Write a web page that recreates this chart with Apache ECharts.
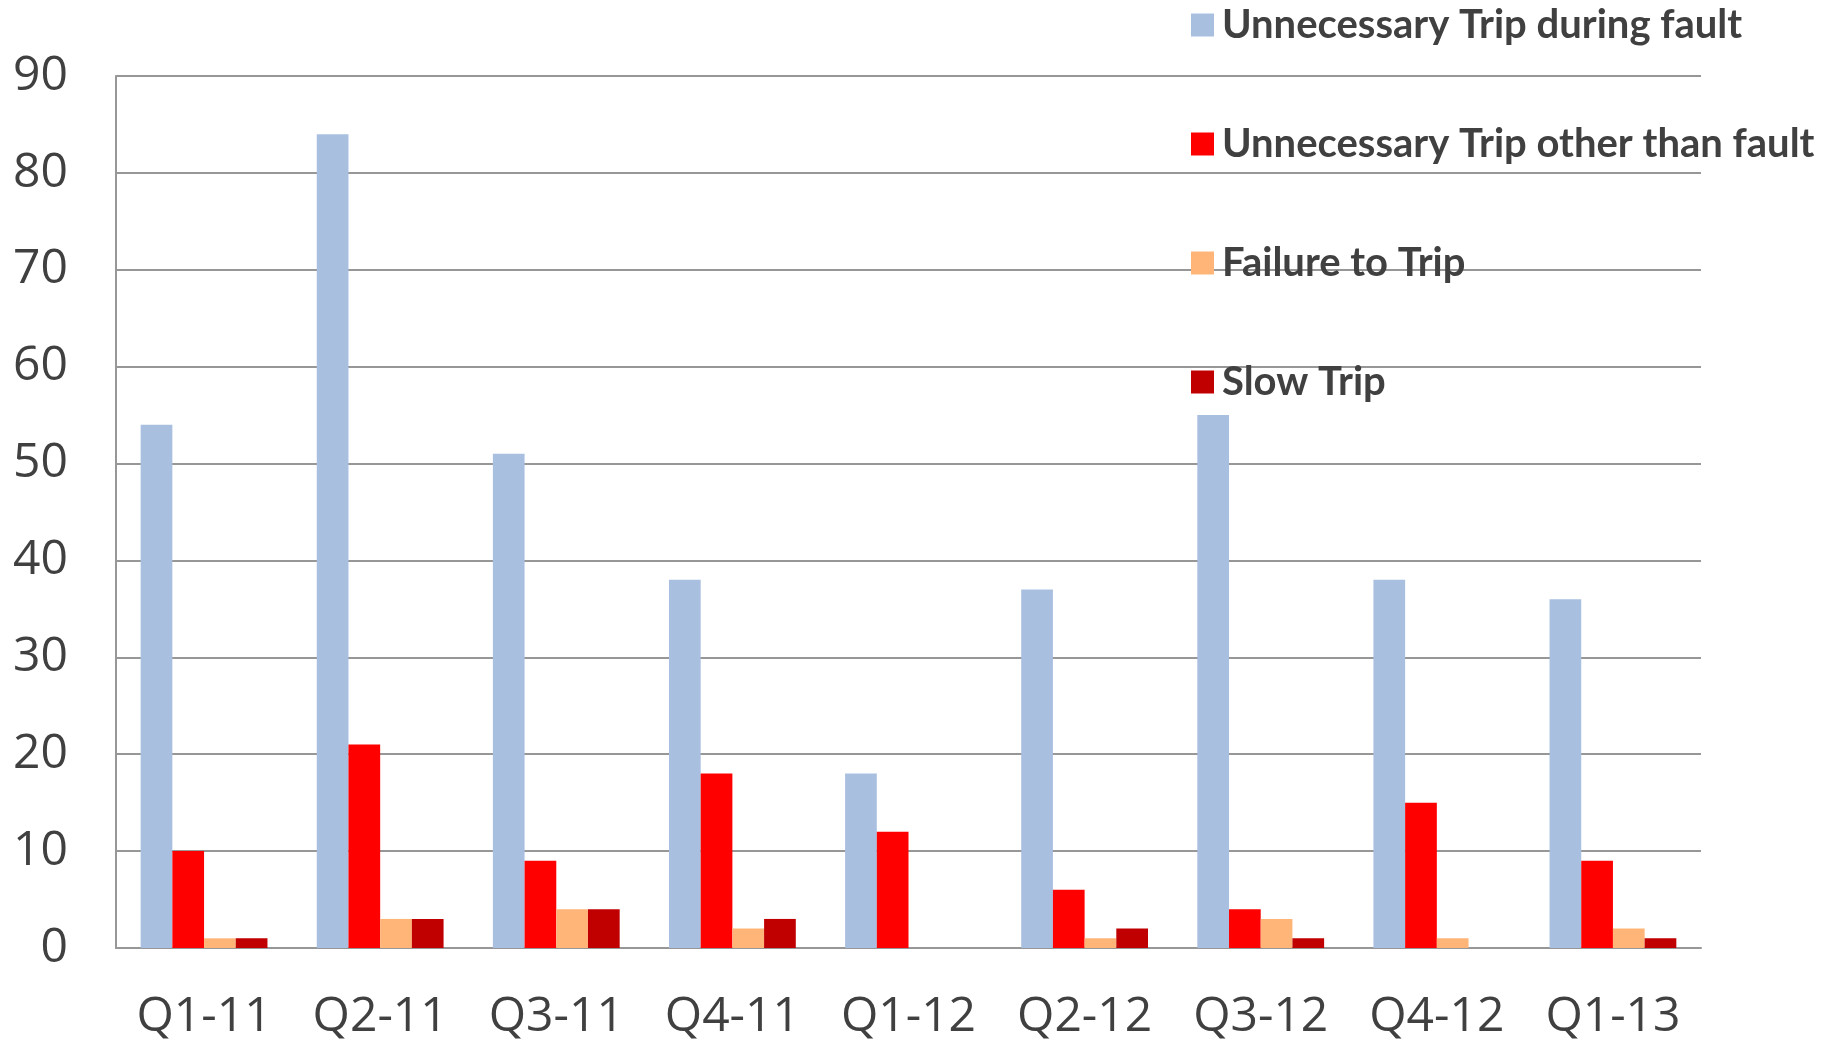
<!DOCTYPE html>
<html>
<head>
<meta charset="utf-8">
<script src="https://cdn.jsdelivr.net/npm/echarts@6/dist/echarts.min.js"></script>
<style>
  html, body { margin: 0; padding: 0; background: #fff; }
  #chart { width: 1836px; height: 1045px; }
</style>
</head>
<body>
<div id="chart"></div>
<script>
  // quarters
  var categories = ['Q1-11', 'Q2-11', 'Q3-11', 'Q4-11', 'Q1-12', 'Q2-12', 'Q3-12', 'Q4-12', 'Q1-13'];
  var seriesNames = ['Unnecessary Trip during fault', 'Unnecessary Trip other than fault', 'Failure to Trip', 'Slow Trip'];
  var tripDuringFault = [54, 84, 51, 38, 18, 37, 55, 38, 36];
  var tripOtherThanFault = [10, 21, 9, 18, 12, 6, 4, 15, 9];
  var failureToTrip = [1, 3, 4, 2, 0, 1, 3, 1, 2];
  var slowTrip = [1, 3, 4, 3, 0, 2, 1, 0, 1];
  var colorList = ['#a9bfe0', '#ff0000', '#ffb578', '#c00000'];

  var chart = echarts.init(document.getElementById('chart'));
  var values = [tripDuringFault, tripOtherThanFault, failureToTrip, slowTrip];
  var series = [];
  for (var i = 0; i < seriesNames.length; i++) {
    series.push({
      type: 'bar',
      name: seriesNames[i],
      data: values[i],
      barGap: '0%',
      barCategoryGap: '28%',
      itemStyle: { color: colorList[i] }
    });
  }

  var option = {
    animation: false,
    color: colorList,
    legend: {
      orient: 'vertical',
      left: 1186,
      top: 0,
      itemWidth: 23,
      itemHeight: 23,
      itemGap: 79,
      icon: 'rect',
      z: 10,
      textStyle: {
        fontFamily: 'Lato',
        fontWeight: 'bold',
        fontSize: 40,
        color: '#404040',
        padding: [0, 0, 0, 3]
      },
      data: seriesNames
    },
    grid: {
      left: 116,
      right: 135,
      top: 76,
      bottom: 97,
      containLabel: false
    },
    xAxis: {
      type: 'category',
      data: categories,
      axisTick: { show: false },
      axisLine: { show: true, lineStyle: { color: '#979797', width: 2 } },
      axisLabel: {
        margin: 45,
        fontFamily: 'Open Sans',
        fontSize: 48,
        color: '#404040'
      }
    },
    yAxis: {
      type: 'value',
      min: 0,
      max: 90,
      interval: 10,
      axisTick: { show: false },
      axisLine: { show: true, lineStyle: { color: '#979797', width: 2 } },
      splitLine: { lineStyle: { color: '#979797', width: 2 } },
      axisLabel: {
        margin: 48,
        fontFamily: 'Open Sans',
        fontSize: 48,
        color: '#404040'
      }
    },
    series: series
  };
  chart.setOption(option);
</script>
</body>
</html>
